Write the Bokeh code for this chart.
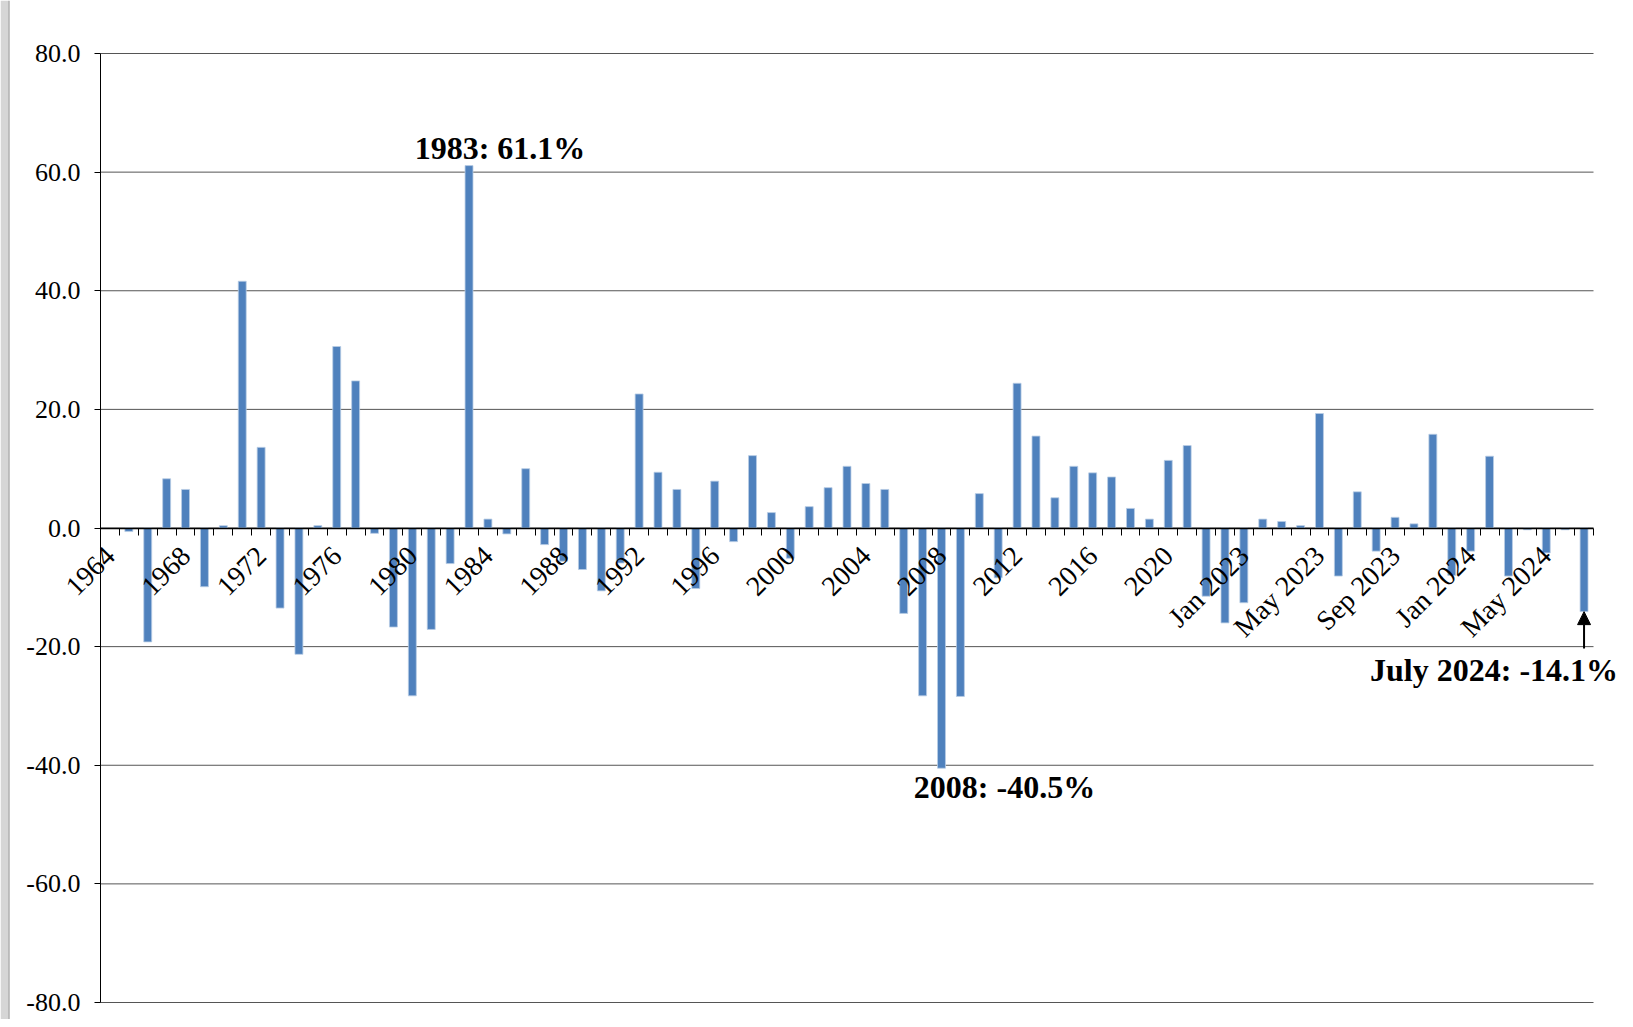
import math
from bokeh.plotting import figure
from bokeh.models import (ColumnDataSource, Range1d, FixedTicker, PrintfTickFormatter,
                          Label, Arrow, NormalHead, BoxAnnotation)
from bokeh.embed import file_html
from bokeh.resources import INLINE

# ---- data ----
years = ["1964", "1965", "1966", "1967", "1968", "1969", "1970", "1971", "1972", "1973",
         "1974", "1975", "1976", "1977", "1978", "1979", "1980", "1981", "1982", "1983",
         "1984", "1985", "1986", "1987", "1988", "1989", "1990", "1991", "1992", "1993",
         "1994", "1995", "1996", "1997", "1998", "1999", "2000", "2001", "2002", "2003",
         "2004", "2005", "2006", "2007", "2008", "2009", "2010", "2011", "2012", "2013",
         "2014", "2015", "2016", "2017", "2018", "2019", "2020", "2021", "2022", "2023"]
year_values = [float("nan"), -0.6, -19.2, 8.3, 6.5, -9.9, 0.4, 41.6, 13.6, -13.5,
               -21.3, 0.4, 30.6, 24.8, -0.9, -16.7, -28.3, -17.1, -6.0, 61.1,
               1.5, -1.0, 10.0, -2.8, -5.6, -7.0, -10.6, -5.9, 22.6, 9.4,
               6.5, -10.2, 7.9, -2.3, 12.2, 2.6, -5.1, 3.6, 6.8, 10.4,
               7.5, 6.5, -14.4, -28.3, -40.5, -28.4, 5.8, -8.4, 24.4, 15.5,
               5.1, 10.4, 9.3, 8.6, 3.3, 1.5, 11.4, 13.9, -11.5, -16.0]
months = ["Jan 2023", "Feb 2023", "Mar 2023", "Apr 2023", "May 2023", "Jun 2023",
          "Jul 2023", "Aug 2023", "Sep 2023", "Oct 2023", "Nov 2023", "Dec 2023",
          "Jan 2024", "Feb 2024", "Mar 2024", "Apr 2024", "May 2024", "Jun 2024", "Jul 2024"]
month_values = [-12.6, 1.5, 1.1, 0.4, 19.3, -8.1, 6.1, -3.9, 1.8, 0.7, 15.8, -8.0,
                -3.9, 12.1, -8.1, -0.3, -4.2, -0.3, -14.1]
tick_labels = ["1964", "1968", "1972", "1976", "1980", "1984", "1988", "1992", "1996",
               "2000", "2004", "2008", "2012", "2016", "2020",
               "Jan 2023", "May 2023", "Sep 2023", "Jan 2024", "May 2024"]
y_ticks = [-80, -60, -40, -20, 0, 20, 40, 60, 80]
callouts = [("1983", "1983"), ("2008", "2008"), ("Jul 2024", "July 2024")]

categories = years + months
values = year_values + month_values
n = len(categories)
xs = [i + 0.5 for i in range(n)]

src = ColumnDataSource(data=dict(x=xs, value=values, cat=categories))

SERIF = "Liberation Serif"

# ---- layout (pixels) ----
W, H = 1625, 1019
PX_LEFT, PX_RIGHT = 100, 1593      # where the category axis starts / ends
PY_TOP, PY_BOTTOM = 53, 1002       # where the top / bottom of the value axis sit
ymin, ymax = y_ticks[0], y_ticks[-1]
sx = (PX_RIGHT - PX_LEFT) / n
sy = (PY_BOTTOM - PY_TOP) / (ymax - ymin)
x_range = Range1d(-PX_LEFT / sx, n + (W - PX_RIGHT) / sx)
y_range = Range1d(ymin - (H - PY_BOTTOM) / sy, ymax + PY_TOP / sy)

p = figure(frame_width=W, frame_height=H, min_border=0,
           x_range=x_range, y_range=y_range,
           output_backend="svg", toolbar_location=None, tools="")
p.outline_line_color = None
p.background_fill_color = "white"
p.border_fill_color = "white"
p.xgrid.visible = False
p.ygrid.visible = False

# framing strip of the original screenshot (left edge)
p.add_layout(BoxAnnotation(left=0, right=8, left_units="screen", right_units="screen",
                           fill_color="#d6d6d6", fill_alpha=1.0, line_color=None, level="underlay"))
p.add_layout(BoxAnnotation(left=8, right=9, left_units="screen", right_units="screen",
                           fill_color="#8a8a8a", fill_alpha=1.0, line_color=None, level="underlay"))

# horizontal gridlines spanning the category extent only
p.segment(x0=0, x1=n, y0=y_ticks, y1=y_ticks, line_color="#555555", line_width=1)

p.vbar(x="x", top="value", bottom=0, width=0.42, source=src,
       fill_color="#4F81BD", line_color="#B9CDE5", line_width=0.8)

# y axis at x = 0
p.yaxis.fixed_location = 0
p.yaxis.bounds = (ymin, ymax)
p.yaxis.ticker = FixedTicker(ticks=y_ticks)
p.yaxis.formatter = PrintfTickFormatter(format="%.1f")
p.yaxis.major_label_text_font = SERIF
p.yaxis.major_label_text_font_size = "26px"
p.yaxis.major_label_text_color = "black"
p.yaxis.axis_line_color = "black"
p.yaxis.major_tick_line_color = "black"
p.yaxis.major_tick_out = 6
p.yaxis.major_tick_in = 0
p.yaxis.minor_tick_line_color = None
p.yaxis.major_label_standoff = 14

# x axis at value 0
label_pos = [categories.index(t) + 0.5 for t in tick_labels]
p.xaxis.fixed_location = 0
p.xaxis.bounds = (0, n)
p.xaxis.ticker = FixedTicker(ticks=label_pos, minor_ticks=list(range(n + 1)))
p.xaxis.major_label_overrides = {pos: t for pos, t in zip(label_pos, tick_labels)}
p.xaxis.major_label_orientation = math.pi / 4
p.xaxis.major_label_text_font = SERIF
p.xaxis.major_label_text_font_size = "28px"
p.xaxis.major_label_text_color = "black"
p.xaxis.major_label_standoff = 16
p.xaxis.major_tick_out = 0
p.xaxis.major_tick_in = 0
p.xaxis.minor_tick_out = 7
p.xaxis.minor_tick_in = 0
p.xaxis.minor_tick_line_color = "black"
p.xaxis.axis_line_color = "black"
p.xaxis.axis_line_width = 1.3

# call-outs
offsets = {"1983": (31, 18), "2008": (63, -19), "Jul 2024": (-90, -58)}
for cat, name in callouts:
    i = categories.index(cat)
    v = values[i]
    dx, dy = offsets[cat]
    p.add_layout(Label(x=xs[i], y=v, x_offset=dx, y_offset=dy,
                       text=f"{name}: {v:.1f}%", text_align="center", text_baseline="alphabetic",
                       text_font=SERIF, text_font_style="bold", text_font_size="32px",
                       text_color="black"))

last = n - 1
p.add_layout(Arrow(end=NormalHead(size=13, fill_color="black", line_color="black"),
                   x_start=xs[last], y_start=values[last] - 6.2,
                   x_end=xs[last], y_end=values[last],
                   line_color="black", line_width=2))

open("out.html", "w").write(file_html(p, INLINE))
